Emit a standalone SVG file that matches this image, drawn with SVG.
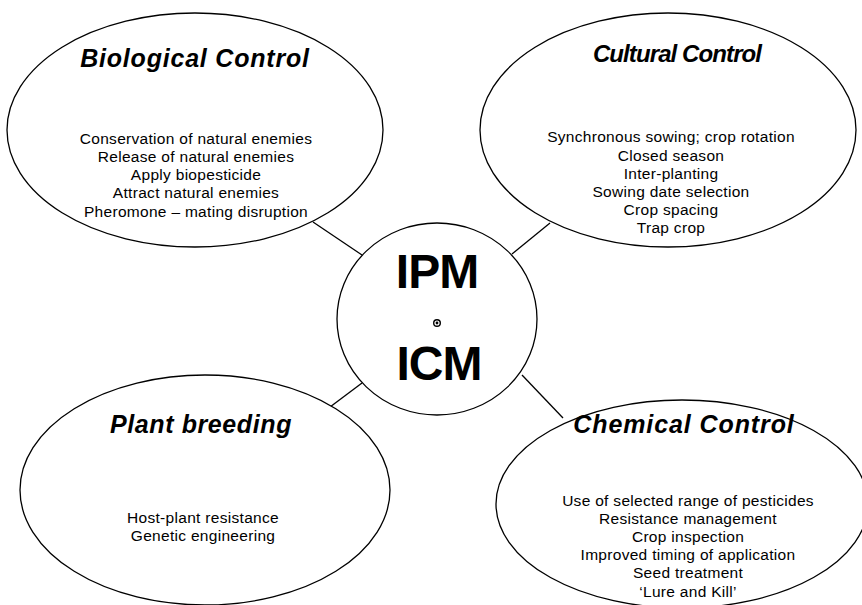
<svg xmlns="http://www.w3.org/2000/svg" width="862" height="605" viewBox="0 0 862 605">
<style>
  .shape { fill: #ffffff; stroke: #000000; stroke-width: 1.3; }
  .conn { stroke: #000000; stroke-width: 1.3; fill: none; }
  text { font-family: "Liberation Sans", Arial, Helvetica, sans-serif; fill: #000000; text-anchor: middle; }
  .title { font-weight: bold; font-style: italic; font-size: 25px; }
  .body { font-size: 15.5px; letter-spacing: 0.3px; }
  .hub { font-weight: bold; font-size: 48px; letter-spacing: -1px; }
</style>
<rect width="862" height="605" fill="#ffffff"/>
<g id="connectors">
  <line class="conn" x1="313" y1="222" x2="362" y2="255"/>
  <line class="conn" x1="550" y1="223" x2="512" y2="254"/>
  <line class="conn" x1="362" y1="383" x2="330" y2="407"/>
  <line class="conn" x1="522" y1="375" x2="563" y2="418"/>
</g>
<g id="biological">
  <ellipse class="shape" cx="195" cy="130" rx="188" ry="117"/>
  <text class="title" x="195" y="67" style="letter-spacing:0.8px">Biological Control</text>
  <text class="body" x="196" y="144">Conservation of natural enemies</text>
  <text class="body" x="196" y="162">Release of natural enemies</text>
  <text class="body" x="196" y="180">Apply biopesticide</text>
  <text class="body" x="196" y="198">Attract natural enemies</text>
  <text class="body" x="196" y="217">Pheromone – mating disruption</text>
</g>
<g id="cultural">
  <ellipse class="shape" cx="668" cy="130" rx="188" ry="117"/>
  <text class="title" x="677" y="62" style="font-size:24px;letter-spacing:-0.9px">Cultural Control</text>
  <text class="body" x="671" y="142">Synchronous sowing; crop rotation</text>
  <text class="body" x="671" y="161">Closed season</text>
  <text class="body" x="671" y="179">Inter-planting</text>
  <text class="body" x="671" y="197">Sowing date selection</text>
  <text class="body" x="671" y="215">Crop spacing</text>
  <text class="body" x="671" y="233">Trap crop</text>
</g>
<g id="plant">
  <ellipse class="shape" cx="205" cy="490" rx="185" ry="115"/>
  <text class="title" x="201" y="433" style="letter-spacing:0.6px">Plant breeding</text>
  <text class="body" x="203" y="523">Host-plant resistance</text>
  <text class="body" x="203" y="541">Genetic engineering</text>
</g>
<g id="chemical">
  <ellipse class="shape" cx="682" cy="504" rx="186" ry="104"/>
  <text class="title" x="684" y="433" style="font-size:25px;letter-spacing:0.9px">Chemical Control</text>
  <text class="body" x="688" y="506">Use of selected range of pesticides</text>
  <text class="body" x="688" y="524">Resistance management</text>
  <text class="body" x="688" y="542">Crop inspection</text>
  <text class="body" x="688" y="560">Improved timing of application</text>
  <text class="body" x="688" y="578">Seed treatment</text>
  <text class="body" x="688" y="597">‘Lure and Kill’</text>
</g>
<g id="hub">
  <ellipse class="shape" cx="437" cy="319" rx="100" ry="96"/>
  <text class="hub" x="437" y="288">IPM</text>
  <circle cx="437" cy="323" r="3.3" fill="#ffffff" stroke="#000000" stroke-width="1.4"/>
  <circle cx="437" cy="323" r="1.4" fill="#000000"/>
  <text class="hub" x="439" y="380">ICM</text>
</g>
</svg>
